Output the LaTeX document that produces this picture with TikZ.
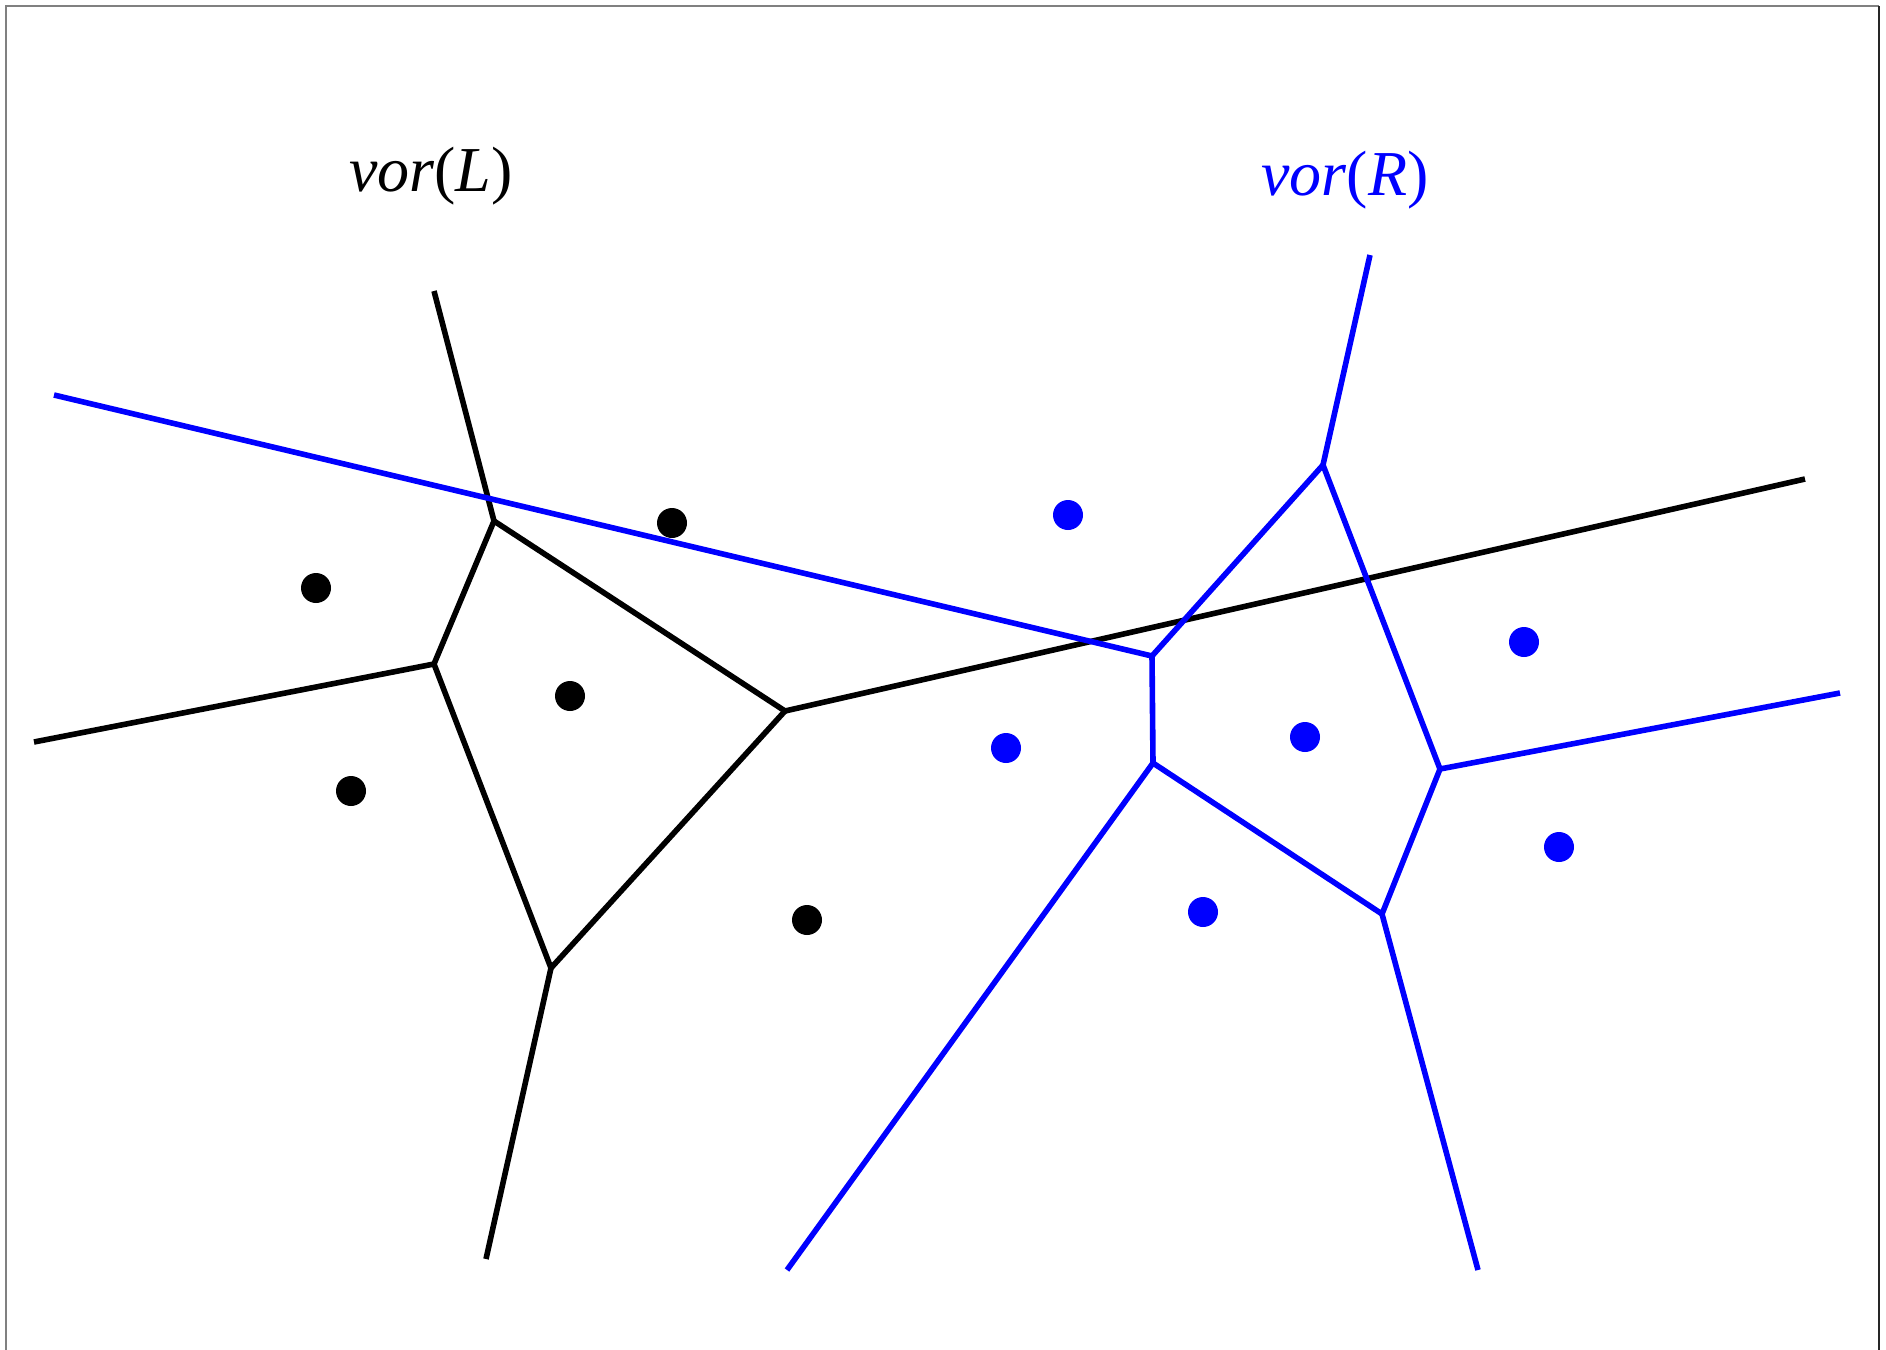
\documentclass[tikz,border=0pt]{standalone}
\usepackage{fontspec}
\setmainfont{Liberation Serif}
\begin{document}
\begin{tikzpicture}[x=0.25pt,y=-0.25pt,
  lline/.style={black, line width=1.4pt},
  rline/.style={blue, line width=1.4pt},
  ldot/.style={circle, fill=black, inner sep=0pt, minimum size=7.5pt},
  rdot/.style={circle, fill=blue, inner sep=0pt, minimum size=7.5pt},
  vlabel/.style={font=\fontsize{16}{19}\selectfont}]
\useasboundingbox (0,0) rectangle (1886,1350);
% frame
\draw[black!50, line width=0.6pt] (6,1350) -- (6,6) -- (1879,6);
\draw[black!85, line width=0.6pt] (1879,6) -- (1879,1350);
% vor(L)
\coordinate (la) at (494,521);
\coordinate (lb) at (434,664);
\coordinate (lc) at (785,711);
\coordinate (ld) at (551,968);
\coordinate (la-end) at (434,291);
\coordinate (lb-end) at (34,742);
\coordinate (lc-end) at (1805,479);
\coordinate (ld-end) at (486,1259);
\draw[lline] (la) -- (lb) -- (ld) -- (lc) -- cycle;
\draw[lline] (la) -- (la-end);
\draw[lline] (lb) -- (lb-end);
\draw[lline] (lc) -- (lc-end);
\draw[lline] (ld) -- (ld-end);
% vor(R)
\coordinate (re) at (1323,465);
\coordinate (rf) at (1152,656);
\coordinate (rg) at (1153,763);
\coordinate (rh) at (1440,769);
\coordinate (ri) at (1382,914);
\coordinate (re-end) at (1370,255);
\coordinate (rf-end) at (54,395);
\coordinate (rg-end) at (787,1270);
\coordinate (rh-end) at (1840,693);
\coordinate (ri-end) at (1478,1270);
\draw[rline] (re) -- (rf) -- (rg) -- (ri) -- (rh) -- cycle;
\draw[rline] (re) -- (re-end);
\draw[rline] (rf) -- (rf-end);
\draw[rline] (rg) -- (rg-end);
\draw[rline] (rh) -- (rh-end);
\draw[rline] (ri) -- (ri-end);
% sites of L
\node[ldot] (l1) at (316,588) {};
\node[ldot] (l2) at (672,523) {};
\node[ldot] (l3) at (570,696) {};
\node[ldot] (l4) at (351,791) {};
\node[ldot] (l5) at (807,920) {};
% sites of R
\node[rdot] (r1) at (1068,515) {};
\node[rdot] (r2) at (1524,642) {};
\node[rdot] (r3) at (1006,748) {};
\node[rdot] (r4) at (1305,737) {};
\node[rdot] (r5) at (1559,847) {};
\node[rdot] (r6) at (1203,912) {};
% labels
\node[vlabel] (vorl) at (431,176) {\textit{vor}(\textit{L})};
\node[vlabel, text=blue] (vorr) at (1345,180) {\textit{vor}(\textit{R})};
\end{tikzpicture}
\end{document}
